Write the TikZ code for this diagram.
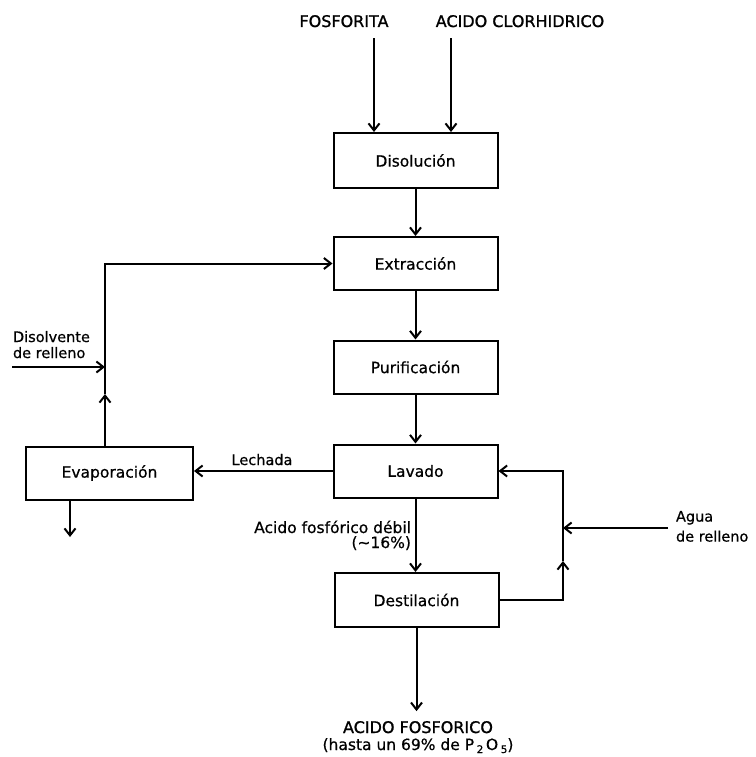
\documentclass[tikz,border=0pt]{standalone}
\usepackage{fontspec}
\setmainfont{DejaVu Sans}[FakeBold=0.6]
\newfontfamily\capsfont{DejaVu Sans}[FakeBold=1.2]
\usetikzlibrary{arrows.meta,calc}
\begin{document}
\begin{tikzpicture}[x=1pt,y=-1pt,
  line width=2pt,
  flow/.style={-{Straight Barb[length=7pt,width=11pt,line width=2pt]}},
  proc/.style={draw,minimum width=164pt,minimum height=53pt,inner sep=0pt,
    font=\fontsize{15.5}{18}\selectfont},
  caps/.style={font=\capsfont\fontsize{16}{18}\selectfont,inner sep=0pt},
  lbl/.style={font=\fontsize{14.5}{16}\selectfont,inner sep=0pt}]
\useasboundingbox (0,0) rectangle (755,757);

% process units
\node[proc,minimum height=55pt] (dis) at (415.5,160.5) {Disolución};
\node[proc] (ext) at (415.5,263.5) {Extracción};
\node[proc] (pur) at (415.5,367) {Purificación};
\node[proc] (lav) at (415.5,471) {Lavado};
\node[proc,minimum width=167pt] (eva) at (109.5,473) {Evaporación};
\node[proc,minimum height=54pt] (des) at (416.5,600) {Destilación};

% raw materials
\node[caps,anchor=base] (fos) at (344,27) {FOSFORITA};
\node[caps,anchor=base] (hcl) at (520,27) {ACIDO CLORHIDRICO};
\draw[flow] ($(fos.south)+(30,10)$) coordinate (a1) -- (a1 |- dis.north);
\draw[flow] ($(hcl.south)+(-69,10)$) coordinate (a2) -- (a2 |- dis.north);

% main line
\draw[flow] (dis) -- (ext);
\draw[flow] (ext) -- (pur);
\draw[flow] (pur) -- (lav);
\draw[flow] (lav.south) -- (lav.south |- des.north);

% side stream to the evaporator
\draw[flow] (lav.west) -- (lav.west -| eva.east);
\node[lbl,anchor=base] (lech) at (262,465) {Lechada};

% solvent recycle
\coordinate (lup) at (105,394);
\draw[flow] (lup |- eva.north) -- (lup);
\draw[flow] (lup) -- (lup |- ext.west) -- (ext.west);
\node[lbl,anchor=north west,align=left] (dsv) at (12,330) {Disolvente\\de relleno};
\coordinate (dsvin) at (12,367);
\draw[flow] (dsvin) -- (dsvin -| lup);
\coordinate (evout) at (70,537);
\draw[flow] (evout |- eva.south) -- (evout);

% weak acid label
\node[lbl,anchor=base east,align=right,font=\fontsize{15.5}{15}\selectfont] (weak) at (412,548)
  {Acido fosfórico débil\\(∼16\%)};

% water recycle
\coordinate (rup) at (563,561);
\draw[flow] (des.east) -| (rup);
\draw[flow] (rup) -- (rup |- lav.east) -- (lav.east);
\coordinate (aguain) at (668,528);
\draw[flow] (aguain) -- (aguain -| rup);
\node[lbl,anchor=north west,align=left,font=\fontsize{14.5}{20}\selectfont] (agua) at (675,510) {Agua\\de relleno};

% product
\node[caps,anchor=base] (prod) at (418,733) {ACIDO FOSFORICO};
\node[lbl,anchor=base,font=\fontsize{15.5}{16}\selectfont] (prod2) at (418,750)
  {(hasta un 69\% de P\,{\fontsize{10.5}{10}\selectfont\raisebox{-3pt}{2}}\,O\,{\fontsize{10.5}{10}\selectfont\raisebox{-3pt}{5}})};
\draw[flow] (des.south) -- ([yshift=9pt]prod.north -| des.south);
\end{tikzpicture}
\end{document}
